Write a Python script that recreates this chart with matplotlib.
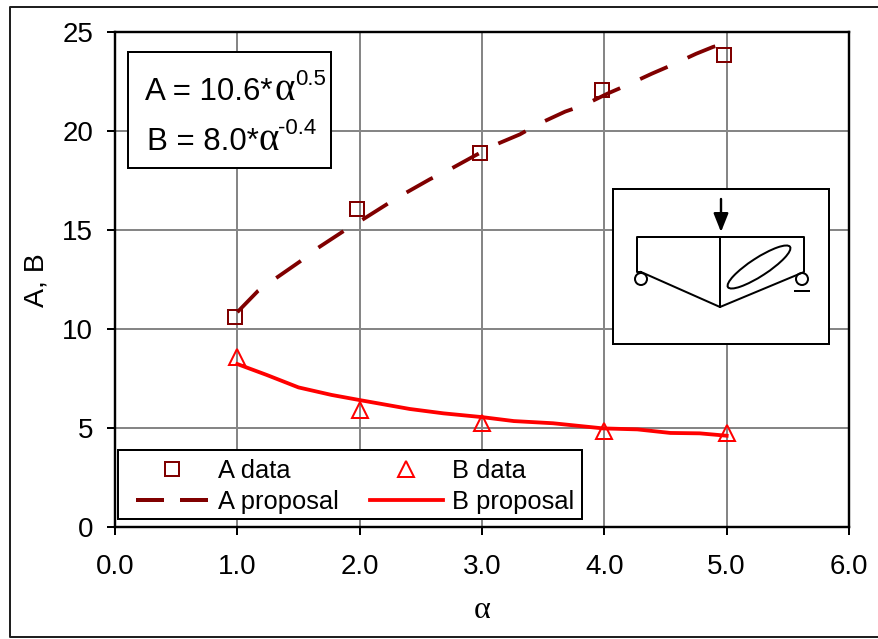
import matplotlib
matplotlib.use('Agg')
import matplotlib.pyplot as plt
from matplotlib.lines import Line2D
from matplotlib.patches import Rectangle, Ellipse, Circle

plt.rcParams['font.family'] = ['Liberation Sans', 'DejaVu Sans']

# data
a_data_x = [0.98, 1.98, 2.98, 3.98, 4.98]
a_data_y = [10.6, 16.05, 18.9, 22.05, 23.85]
b_data_x = [1.0, 2.0, 3.0, 4.0, 5.0]
b_data_y = [8.6, 5.9, 5.25, 4.85, 4.75]

a_prop_x = [1.0, 1.17, 1.30, 1.51, 1.66, 1.87, 2.03, 2.235, 2.37, 2.576, 2.74, 2.94,
            3.107, 3.31, 3.46, 3.68, 3.83, 4.03, 4.18, 4.39, 4.54, 4.75, 4.89, 4.98]
a_prop_y = [10.85, 11.93, 12.5, 13.4, 14.1, 14.95, 15.55, 16.35, 16.85, 17.57, 18.07, 18.75,
            19.3, 19.83, 20.35, 20.98, 21.3, 21.9, 22.3, 22.9, 23.3, 23.9, 24.25, 24.4]
b_prop_x = [1.0, 1.24, 1.5, 1.77, 2.0, 2.41, 2.685, 3.0, 3.26, 3.58, 3.99, 4.27, 4.54, 4.78, 5.0]
b_prop_y = [8.23, 7.68, 7.05, 6.67, 6.41, 5.96, 5.74, 5.55, 5.35, 5.24, 4.98, 4.93, 4.75, 4.73, 4.61]

x_ticks = [0, 1, 2, 3, 4, 5, 6]
y_ticks = [0, 5, 10, 15, 20, 25]

W, H = 879, 639
px = 0.72  # one pixel in points at dpi 100
dark_red = '#800000'
line_w = 3.8 * px

fig = plt.figure(figsize=(W / 100, H / 100), dpi=100)
ax = fig.add_axes([115 / W, 1 - 527 / H, (849 - 115) / W, (527 - 32) / H])

# lines and markers
square, = ax.plot(a_data_x, a_data_y, ls='', marker='s', ms=14 * px, mfc='none', mec=dark_red,
                  mew=2 * px, zorder=3)
ax.plot(a_prop_x, a_prop_y, c=dark_red, lw=line_w, ls=(0, (30 * px / line_w, 22 * px / line_w)), zorder=4)
triangle, = ax.plot(b_data_x, b_data_y, ls='', marker='^', ms=16 * px, mfc='none', mec='red',
                    mew=2 * px, zorder=3)
b_line, = ax.plot(b_prop_x, b_prop_y, c='red', lw=line_w, zorder=4)
# legend sample has shorter dashes than the curve
a_handle = Line2D([], [], c=dark_red, lw=4 * px, ls=(0, (28 / 4, 16 / 4)))

# axes
ax.set_xlim(0, 6)
ax.set_ylim(0, 25)
ax.set_xticks(x_ticks)
ax.set_xticklabels(['%.1f' % v for v in x_ticks])
ax.set_yticks(y_ticks)
ax.grid(True, c='#868686', lw=2 * px)
ax.set_axisbelow(True)
ax.tick_params(length=8 * px, width=2 * px, labelsize=20, color='black')
ax.tick_params(axis='x', pad=14)
ax.tick_params(axis='y', pad=10)
for s in ax.spines.values():
    s.set_linewidth(2.4 * px)
    s.set_color('black')
fig.text(482 / W, 1 - 611 / H, 'α', family='Liberation Serif', fontsize=23, ha='center', va='center')
fig.text(37 / W, 1 - 280 / H, 'A, B', fontsize=20.5, rotation=90, ha='center', va='center')

# overlay in pixel coordinates: outer frame, legend, formula box, beam sketch
ov = fig.add_axes([0, 0, 1, 1], zorder=10)
ov.set_xlim(0, W)
ov.set_ylim(H, 0)
ov.axis('off')
ov.plot([W, 10, 10, W], [7, 7, 637, 637], c='#202020', lw=2 * px)

ov.add_patch(Rectangle((118, 450), 464, 69, fc='white', ec='black', lw=2 * px))
ov.legend([square, a_handle, triangle, b_line], ['A data', 'A proposal', 'B data', 'B proposal'],
          ncols=2, loc='lower left', bbox_to_anchor=(136, 514), bbox_transform=ov.transData,
          borderaxespad=0, borderpad=0, fontsize=18.4, frameon=False, handlelength=2.85,
          handletextpad=0.35, columnspacing=1.22, labelspacing=0.28)

ov.add_patch(Rectangle((128, 52), 203, 116, fc='white', ec='black', lw=2 * px))
ov.text(145, 100, 'A = 10.6*', fontsize=22.5, va='baseline')
ov.text(275, 100, 'α', family='Liberation Serif', fontsize=28, va='baseline')
ov.text(295, 85, '0.5', fontsize=16, va='baseline')
ov.text(147, 150, 'B = 8.0*', fontsize=22.5, va='baseline')
ov.text(259, 150, 'α', family='Liberation Serif', fontsize=28, va='baseline')
ov.text(278, 134, '-0.4', fontsize=16, va='baseline')

ov.add_patch(Rectangle((613, 189), 216, 155, fc='white', ec='black', lw=2 * px))
ov.plot([641, 637, 637, 804, 804, 720, 641], [272, 272, 237, 237, 272, 307, 272], c='black', lw=2 * px)
ov.plot([720, 720], [237, 307], c='black', lw=2 * px)
ov.add_patch(Ellipse((759, 267), 74, 18, angle=-33, fc='none', ec='black', lw=2 * px))
ov.add_patch(Circle((641, 279), 6, fc='white', ec='black', lw=2 * px))
ov.add_patch(Circle((802, 279), 6, fc='white', ec='black', lw=2 * px))
ov.plot([795, 809], [291, 291], c='black', lw=2 * px)
ov.annotate('', xy=(721, 232), xytext=(721, 199),
            arrowprops=dict(arrowstyle='-|>,head_width=0.28,head_length=0.7', color='black', lw=2.4 * px,
                            shrinkA=0, shrinkB=0, mutation_scale=16))

plt.savefig('out.png', dpi=100)
